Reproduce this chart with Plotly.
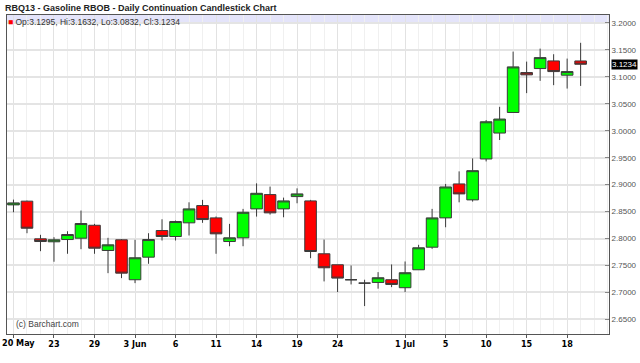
import plotly.graph_objects as go

dates = ["20 May", "21 May", "22 May", "23 May", "24 May", "28 May", "29 May", "30 May", "31 May",
         "3 Jun", "4 Jun", "5 Jun", "6 Jun", "7 Jun", "10 Jun", "11 Jun", "12 Jun", "13 Jun", "14 Jun",
         "17 Jun", "18 Jun", "19 Jun", "20 Jun", "21 Jun", "24 Jun", "25 Jun", "26 Jun", "27 Jun", "28 Jun",
         "1 Jul", "2 Jul", "3 Jul", "5 Jul", "8 Jul", "9 Jul", "10 Jul", "11 Jul", "12 Jul",
         "15 Jul", "16 Jul", "17 Jul", "18 Jul", "19 Jul"]

opens = [2.8624, 2.8693, 2.7994, 2.7939, 2.7981, 2.8006, 2.8246, 2.7778, 2.7976,
         2.7235, 2.7654, 2.8148, 2.8037, 2.8291, 2.8611, 2.8383, 2.7944, 2.8013, 2.8550,
         2.8815, 2.8550, 2.8778, 2.8698, 2.7717, 2.7513, 2.7235, 2.7172, 2.7185, 2.7235,
         2.7087, 2.7420, 2.7839, 2.8383, 2.9013, 2.8717, 2.9476, 2.9957, 3.0339,
         3.1080, 3.1154, 3.1296, 3.1031, 3.1295]
highs = [2.8722, 2.8704, 2.8069, 2.8024, 2.8135, 2.8519, 2.8272, 2.8013, 2.7990,
         2.7976, 2.8098, 2.8357, 2.8333, 2.8672, 2.8717, 2.8409, 2.8272, 2.8550, 2.9024,
         2.8963, 2.8759, 2.8931, 2.8717, 2.7981, 2.7513, 2.7500, 2.7235, 2.7376, 2.7519,
         2.7574, 2.7883, 2.8550, 2.9013, 2.9246, 2.9487, 3.0198, 3.0444, 3.1469,
         3.1283, 3.1524, 3.1420, 3.1339, 3.1632]
lows = [2.8487, 2.8098, 2.7765, 2.7569, 2.7717, 2.7802, 2.7717, 2.7357, 2.7265,
        2.7172, 2.7531, 2.7963, 2.7963, 2.8056, 2.8291, 2.7717, 2.7857, 2.7857, 2.8407,
        2.8444, 2.8394, 2.8654, 2.7635, 2.7204, 2.7006, 2.7148, 2.6746, 2.7069, 2.7098,
        2.7006, 2.7420, 2.7809, 2.8209, 2.8672, 2.8685, 2.9431, 2.9828, 3.0339,
        3.0698, 3.0926, 3.0846, 3.0783, 3.0832]
closes = [2.8661, 2.8191, 2.7944, 2.7976, 2.8074, 2.8278, 2.7820, 2.7883, 2.7357,
          2.7643, 2.7981, 2.8037, 2.8315, 2.8550, 2.8352, 2.8087, 2.8013, 2.8487, 2.8839,
          2.8476, 2.8698, 2.8828, 2.7759, 2.7457, 2.7265, 2.7235, 2.7172, 2.7272, 2.7148,
          2.7365, 2.7828, 2.8383, 2.8957, 2.8828, 2.9259, 3.0167, 3.0217, 3.1185,
          3.1037, 3.1357, 3.1098, 3.1098, 3.1234]

tick_labels = ["20 May", "23", "29", "3 Jun", "6", "11", "14", "19", "24", "1 Jul", "5", "10", "15", "18"]
tick_dates = ["20 May", "23 May", "29 May", "3 Jun", "6 Jun", "11 Jun", "14 Jun", "19 Jun", "24 Jun",
              "1 Jul", "5 Jul", "10 Jul", "15 Jul", "18 Jul"]
y_ticks = [2.65, 2.70, 2.75, 2.80, 2.85, 2.90, 2.95, 3.00, 3.05, 3.10, 3.15, 3.20]

title = "RBQ13 - Gasoline RBOB - Daily Continuation Candlestick Chart"
legend_text = "Op:3.1295, Hi:3.1632, Lo:3.0832, Cl:3.1234"
last_close = closes[-1]

x_idx = list(range(len(dates)))
tick_idx = [dates.index(d) for d in tick_dates]
# first label sits at the left edge: drawn separately (left-aligned) so it stays visible
tick_text = [""] + tick_labels[1:]

FONT = "Liberation Sans, Arial, sans-serif"
XFONT = dict(family="Liberation Sans Narrow, DejaVu Sans Condensed, Liberation Sans, sans-serif",
             size=9, color="#000000", weight="bold")

fig = go.Figure()
fig.add_trace(go.Candlestick(
    x=x_idx, open=opens, high=highs, low=lows, close=closes,
    increasing=dict(fillcolor="#00ff00", line=dict(color="#3a3a3a", width=1)),
    decreasing=dict(fillcolor="#ff0000", line=dict(color="#3a3a3a", width=1)),
    whiskerwidth=0, showlegend=False, hoverinfo="skip",
))

# legend band at top
fig.add_shape(type="rect", xref="paper", yref="y", x0=0, x1=1, y0=3.2, y1=3.2148,
              fillcolor="#e4e4fa", line=dict(width=0), layer="below")
fig.add_shape(type="line", xref="paper", yref="y", x0=0, x1=1, y0=3.2, y1=3.2,
              line=dict(color="#c8c8ee", width=1), layer="below")

fig.add_annotation(xref="paper", yref="paper", x=0, y=1, xanchor="left", yanchor="top",
                   xshift=-1, yshift=0, showarrow=False,
                   text="<span style='color:#ff0000'>■</span> " + legend_text,
                   font=dict(family=FONT, size=8.5, color="#333333"))

fig.add_annotation(xref="paper", yref="paper", x=0, y=1, xanchor="left", yanchor="bottom",
                   xshift=-4, yshift=0, showarrow=False, text="<b>" + title + "</b>",
                   font=dict(family=FONT, size=9, color="#222222"))

fig.add_annotation(xref="paper", yref="paper", x=0, y=0, xanchor="left", yanchor="bottom",
                   xshift=7, yshift=3, showarrow=False, text="(c) Barchart.com",
                   font=dict(family=FONT, size=8.5, color="#444444"))

fig.add_annotation(xref="paper", yref="y", x=1, y=last_close, xanchor="left", yanchor="middle",
                   xshift=2, showarrow=False, text="3.1234", bgcolor="#000000", borderpad=0,
                   font=dict(family=FONT, size=8, color="#ffffff"))

# first x tick label
fig.add_annotation(xref="paper", yref="paper", x=0, y=0, xanchor="left", yanchor="top",
                   xshift=-7, yshift=-2, showarrow=False, text=tick_labels[0], font=XFONT)

fig.update_layout(
    width=640, height=363,
    margin=dict(l=7, r=31, t=15, b=29, autoexpand=False),
    paper_bgcolor="#ffffff", plot_bgcolor="#ffffff",
    boxgap=0.14, boxgroupgap=0,
    xaxis=dict(
        range=[-0.48, 44.1], rangeslider=dict(visible=False), automargin=False,
        tickmode="array", tickvals=tick_idx, ticktext=tick_text,
        ticklabeloverflow="allow", ticklabelstandoff=-2,
        showgrid=True, gridcolor="#e2e2e2", gridwidth=1,
        minor=dict(tickmode="linear", tick0=0, dtick=1, showgrid=True, gridcolor="#f0f0f0", gridwidth=1),
        ticks="outside", ticklen=3, tickcolor="#555555",
        tickfont=XFONT,
        showline=True, linecolor="#555555", linewidth=1, mirror=True, zeroline=False,
    ),
    yaxis=dict(
        side="right", range=[2.6228, 3.2148], automargin=False,
        tickmode="array", tickvals=y_ticks, ticktext=["%.4f" % v for v in y_ticks],
        ticklabeloverflow="allow",
        showgrid=True, gridcolor="#e4e4e4", gridwidth=1.5,
        ticks="inside", ticklen=4, tickcolor="#888888",
        tickfont=dict(family=FONT, size=8, color="#555555"),
        showline=True, linecolor="#555555", linewidth=1, mirror=True, zeroline=False,
    ),
)

fig.write_html("out.html", config={"displayModeBar": False},
               post_script="document.body.style.margin='0';document.body.style.overflow='hidden';")
